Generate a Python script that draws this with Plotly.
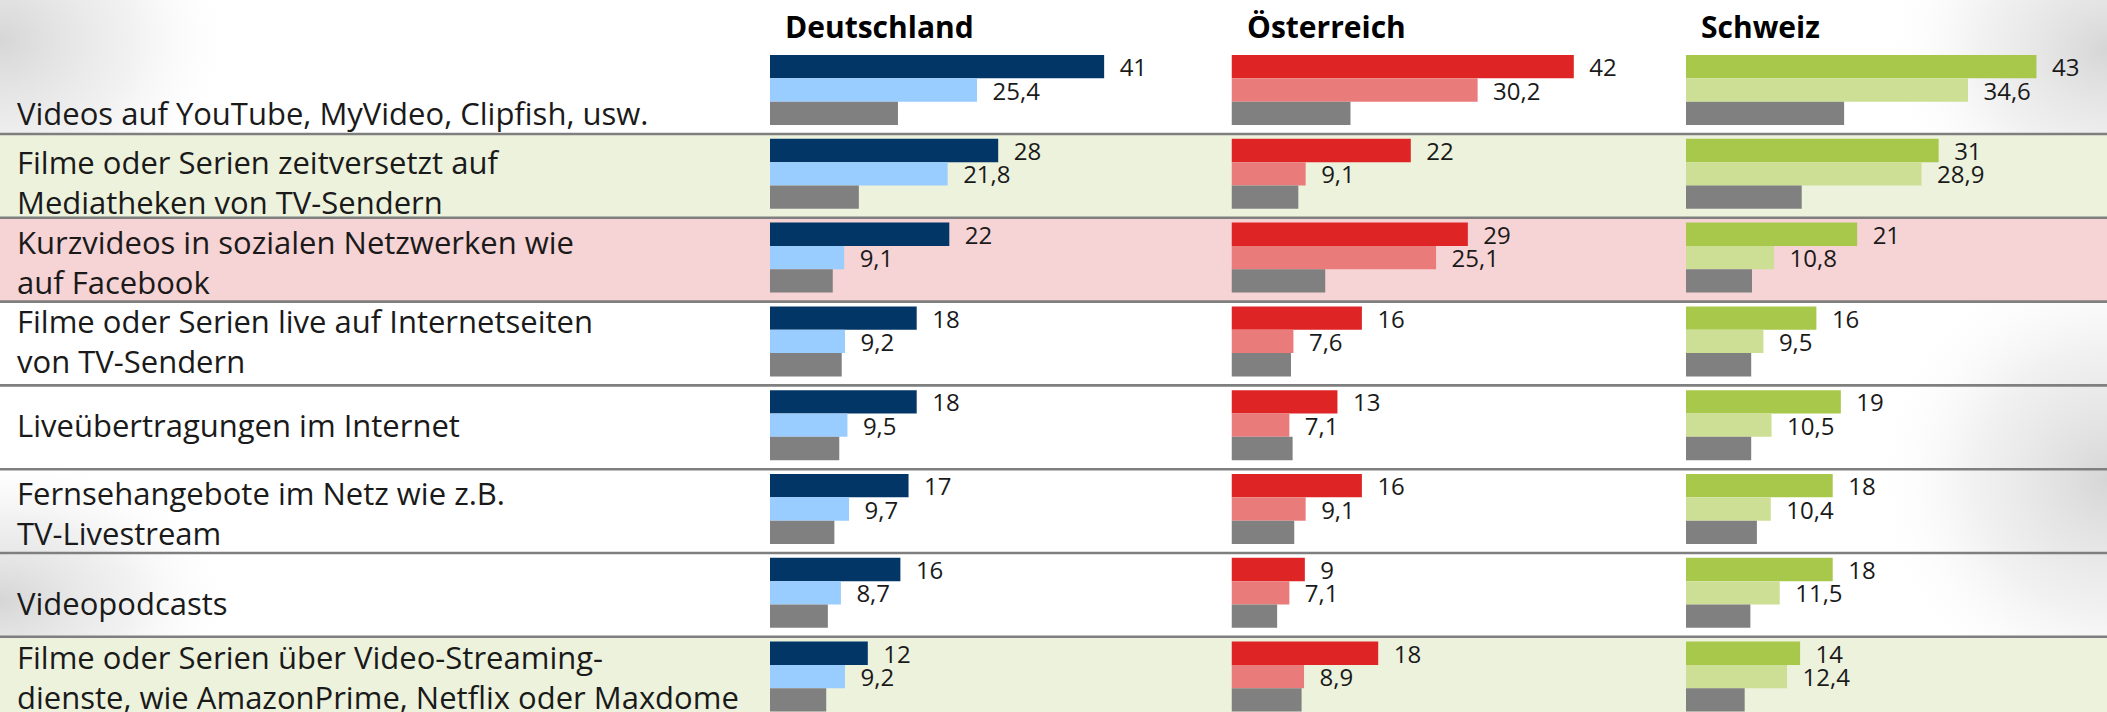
import base64
import plotly.graph_objects as go

# ---------------- data ----------------
categories = [
    "Videos auf YouTube, MyVideo, Clipfish, usw.",
    "Filme oder Serien zeitversetzt auf<br>Mediatheken von TV-Sendern",
    "Kurzvideos in sozialen Netzwerken wie<br>auf Facebook",
    "Filme oder Serien live auf Internetseiten<br>von TV-Sendern",
    "Liveübertragungen im Internet",
    "Fernsehangebote im Netz wie z.B.<br>TV-Livestream",
    "Videopodcasts",
    "Filme oder Serien über Video-Streaming-<br>dienste, wie AmazonPrime, Netflix oder Maxdome",
]
countries = ["Deutschland", "Österreich", "Schweiz"]

de_main = [41, 28, 22, 18, 18, 17, 16, 12]
de_second = [25.4, 21.8, 9.1, 9.2, 9.5, 9.7, 8.7, 9.2]
de_third = [15.7, 10.9, 7.7, 8.8, 8.5, 7.9, 7.1, 6.9]

at_main = [42, 22, 29, 16, 13, 16, 9, 18]
at_second = [30.2, 9.1, 25.1, 7.6, 7.1, 9.1, 7.1, 8.9]
at_third = [14.6, 8.2, 11.5, 7.3, 7.5, 7.7, 5.6, 8.6]

ch_main = [43, 31, 21, 16, 19, 18, 18, 14]
ch_second = [34.6, 28.9, 10.8, 9.5, 10.5, 10.4, 11.5, 12.4]
ch_third = [19.4, 14.2, 8.1, 8.0, 8.0, 8.7, 7.9, 7.2]

# ---------------- styling ----------------
W, H = 2107, 712
FONT = "Open Sans"
TXT = "#1a1a1a"
colors = [
    ("#023667", "#99CCFF", "#808080"),
    ("#DF2426", "#EA7B7B", "#808080"),
    ("#A7C84B", "#CCDF94", "#808080"),
]
panel_left = [770, 1231.5, 1686]
panel_w = 420
px_per_unit = 8.15
pitch = 83.8
first_center = 90

rows = list(range(len(categories)))


def fmt(v):
    s = ("%g" % v).replace(".", ",")
    return "\u00a0\u00a0" + s


fig = go.Figure()

series = [
    (de_main, de_second, de_third),
    (at_main, at_second, at_third),
    (ch_main, ch_second, ch_third),
]

for p, (vals, cols) in enumerate(zip(series, colors)):
    xa = "x" if p == 0 else "x%d" % (p + 1)
    for s, (v, c) in enumerate(zip(vals, cols)):
        fig.add_trace(go.Bar(
            x=v, y=rows, orientation="h",
            xaxis=xa, yaxis="y",
            marker=dict(color=c, line=dict(width=0)),
            text=[fmt(a) for a in v] if s < 2 else None,
            textposition="outside" if s < 2 else "none",
            textfont=dict(family=FONT, size=24, color=TXT),
            constraintext="none",
            cliponaxis=False,
            showlegend=False,
            hoverinfo="skip",
        ))

layout_axes = {}
for p in range(3):
    key = "xaxis" if p == 0 else "xaxis%d" % (p + 1)
    layout_axes[key] = dict(
        domain=[panel_left[p] / W, (panel_left[p] + panel_w) / W],
        range=[0, panel_w / px_per_unit],
        visible=False, showgrid=False, zeroline=False, fixedrange=True,
        anchor="y",
    )

fig.update_layout(
    width=W, height=H,
    margin=dict(l=0, r=0, t=0, b=0),
    paper_bgcolor="white",
    plot_bgcolor="rgba(0,0,0,0)",
    barmode="group",
    bargap=0.165,
    bargroupgap=0,
    showlegend=False,
    yaxis=dict(
        domain=[0, 1],
        range=[(H - first_center) / pitch, -first_center / pitch],
        visible=False, showgrid=False, zeroline=False, fixedrange=True,
    ),
    **layout_axes,
)

# row backgrounds and separators
shapes = []
row_fill = {1: "#EDF2DD", 2: "#F6D3D4", 7: "#EDF2DD"}
for k, col in row_fill.items():
    shapes.append(dict(type="rect", xref="paper", yref="y", x0=0, x1=1,
                       y0=k - 0.475, y1=k + 0.525 if k < len(rows) - 1 else k + 1.5,
                       fillcolor=col, line=dict(width=0), layer="below"))
for k in rows[:-1]:
    shapes.append(dict(type="line", xref="paper", yref="y", x0=0, x1=1,
                       y0=k + 0.525, y1=k + 0.525,
                       line=dict(color="#7F7F7F", width=2.6), layer="below"))
fig.update_layout(shapes=shapes)

# category labels
label_shift = [-23, -8, -4, 0, 0, -4, -10, 0]
annotations = []
for k, (lab, sh) in enumerate(zip(categories, label_shift)):
    annotations.append(dict(
        text=lab, xref="paper", yref="y", x=15 / W, y=k,
        xanchor="left", yanchor="middle", align="left", showarrow=False,
        yshift=sh, font=dict(family=FONT, size=31, color=TXT),
    ))
for p, name in enumerate(countries):
    annotations.append(dict(
        text="<b>%s</b>" % name, xref="paper", yref="paper",
        x=(panel_left[p] + 13) / W, y=1 - 26 / H,
        xanchor="left", yanchor="middle", showarrow=False,
        font=dict(family=FONT, size=30, color="#000000"),
    ))
fig.update_layout(annotations=annotations)

# soft page shading (decorative background)
svg = f'''<svg xmlns="http://www.w3.org/2000/svg" width="{W}" height="{H}" viewBox="0 0 {W} {H}" preserveAspectRatio="none">
<defs><radialGradient id="g" cx="0.5" cy="0.5" r="0.5">
<stop offset="0" stop-color="#d6d6d6" stop-opacity="1"/>
<stop offset="0.55" stop-color="#e8e8e8" stop-opacity="0.6"/>
<stop offset="1" stop-color="#ffffff" stop-opacity="0"/></radialGradient></defs>
<ellipse cx="0" cy="40" rx="240" ry="200" fill="url(#g)"/>
<ellipse cx="0" cy="600" rx="240" ry="150" fill="url(#g)"/>
<ellipse cx="{W}" cy="50" rx="230" ry="190" fill="url(#g)"/>
<ellipse cx="{W}" cy="480" rx="240" ry="240" fill="url(#g)"/>
</svg>'''
src = "data:image/svg+xml;base64," + base64.b64encode(svg.encode()).decode()
fig.add_layout_image(dict(source=src, xref="paper", yref="paper", x=0, y=1,
                          sizex=1, sizey=1, xanchor="left", yanchor="top",
                          sizing="stretch", layer="below"))

fig.write_html(
    "out.html",
    config={"displayModeBar": False},
    post_script="document.body.style.margin='0';document.body.style.overflow='hidden';",
)
